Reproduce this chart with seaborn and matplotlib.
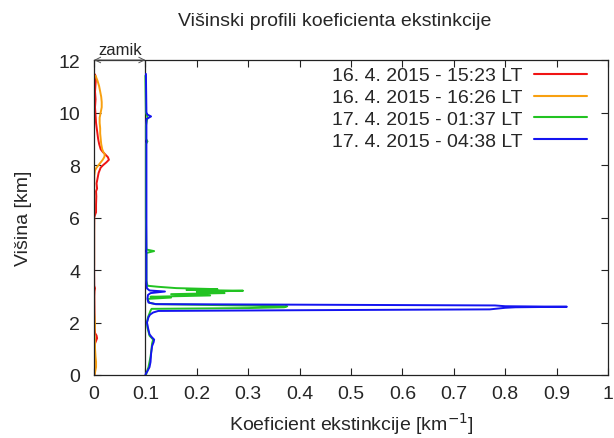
import matplotlib
matplotlib.use("Agg")
import matplotlib.pyplot as plt
import seaborn as sns
import pandas as pd

# ---------------- data (heights in km, extinction in km^-1) ----------------
labels = ["16. 4. 2015 - 15:23 LT", "16. 4. 2015 - 16:26 LT",
          "17. 4. 2015 - 01:37 LT", "17. 4. 2015 - 04:38 LT"]
colors = ["#f01414", "#f8a010", "#22c322", "#1414f0"]
offset = 0.1  # "zamik" applied to the night profiles

red_h = [0.0, 0.3, 0.6, 0.9, 1.2, 1.3, 1.4, 1.5, 1.6, 1.9, 2.2, 2.6, 3.0, 3.2, 3.3,
         3.4, 3.8, 4.5, 5.0, 5.5, 6.0, 6.1, 6.2, 6.5, 6.8, 7.0, 7.1, 7.3, 7.5, 7.7,
         7.9, 8.0, 8.1, 8.2, 8.3, 8.4, 8.5, 8.6, 8.8, 9.0, 9.3, 9.6, 9.9, 10.2, 10.5,
         10.8, 11.1, 11.3, 11.45]
red_v = [0.001, 0.001, 0.0008, 0.001, 0.002, 0.004, 0.006, 0.005, 0.002, 0.001,
         0.001, 0.0008, 0.0006, 0.001, 0.002, 0.0005, 0.0003, 0.0003, 0.0003, 0.0003,
         0.0005, 0.002, 0.004, 0.004, 0.0045, 0.004, 0.006, 0.005, 0.007, 0.009,
         0.013, 0.018, 0.024, 0.029, 0.027, 0.022, 0.017, 0.013, 0.010, 0.008,
         0.006, 0.004, 0.003, 0.002, 0.003, 0.002, 0.003, 0.004, 0.002]

orange_h = [0.0, 0.1, 0.3, 0.5, 0.7, 1.0, 1.3, 1.6, 1.9, 2.2, 2.4, 2.8, 3.3, 3.5, 3.7,
            3.9, 4.2, 5.0, 6.0, 7.0, 7.6, 7.8, 7.9, 8.0, 8.1, 8.2, 8.3, 8.4, 8.5, 8.6,
            8.8, 9.0, 9.2, 9.4, 9.6, 9.8, 10.0, 10.2, 10.4, 10.6, 10.8, 11.0, 11.2, 11.4]
orange_v = [0.001, 0.002, 0.004, 0.004, 0.003, 0.002, 0.002, 0.001, 0.002, 0.001,
            0.0003, 0.0002, 0.0002, -0.0005, -0.0006, -0.0004, 0.0002, 0.0002, 0.0002,
            0.0003, 0.0005, 0.002, 0.005, 0.009, 0.013, 0.017, 0.020, 0.021, 0.018,
            0.016, 0.014, 0.013, 0.012, 0.012, 0.011, 0.011, 0.013, 0.015, 0.015,
            0.014, 0.012, 0.010, 0.007, 0.003]

green_h = [0.0, 0.3, 0.7, 1.0, 1.2, 1.35, 1.5, 1.8, 2.0, 2.2, 2.35, 2.45, 2.52, 2.55,
           2.58, 2.62, 2.66, 2.70, 2.75, 2.85, 2.90, 2.95, 2.98, 3.03, 3.08, 3.12,
           3.17, 3.21, 3.24, 3.27, 3.31, 3.36, 3.40, 3.6, 4.65, 4.72, 4.78, 6.0, 8.8,
           8.9, 9.0, 9.5, 9.8, 9.9, 10.0, 11.4]
green_v = [0.001, 0.006, 0.010, 0.012, 0.013, 0.015, 0.008, 0.004, 0.003, 0.005,
           0.008, 0.010, 0.012, 0.200, 0.270, 0.276, 0.150, 0.020, 0.008, 0.005,
           0.005, 0.050, 0.010, 0.126, 0.050, 0.154, 0.100, 0.190, 0.080, 0.140,
           0.060, 0.025, 0.004, 0.002, 0.002, 0.017, 0.002, 0.001, 0.001, 0.004,
           0.001, 0.001, 0.004, 0.003, 0.001, 0.000]

blue_h = [0.0, 0.05, 0.15, 0.3, 0.5, 0.8, 1.1, 1.25, 1.35, 1.45, 1.55, 1.8, 2.0, 2.2,
          2.3, 2.38, 2.44, 2.47, 2.50, 2.56, 2.58, 2.60, 2.62, 2.65, 2.70, 2.76, 2.9,
          3.05, 3.12, 3.18, 3.22, 3.30, 3.5, 9.75, 9.85, 9.92, 10.0, 11.47]
blue_v = [0.000, 0.001, 0.004, 0.008, 0.010, 0.011, 0.013, 0.016, 0.017, 0.012,
          0.008, 0.005, 0.003, 0.006, 0.009, 0.015, 0.025, 0.320, 0.670, 0.700,
          0.720, 0.820, 0.700, 0.680, 0.020, 0.006, 0.004, 0.005, 0.010, 0.038,
          0.008, 0.003, 0.002, 0.002, 0.011, 0.004, 0.002, 0.001]

# ---------------- style ----------------
sns.set_style("ticks", {"xtick.direction": "in", "ytick.direction": "in"})
plt.rcParams["font.family"] = ["Liberation Sans", "DejaVu Sans"]
plt.rcParams["axes.edgecolor"] = "#222222"
plt.rcParams["axes.linewidth"] = 0.9

fig = plt.figure(figsize=(6.14, 4.39), dpi=100)
ax = fig.add_axes([94 / 614, 1 - 376 / 439, 514 / 614, 315 / 439])

series = [
    (red_h, red_v, 0.0),
    (orange_h, orange_v, 0.0),
    (green_h, green_v, offset),
    (blue_h, blue_v, offset),
]
for (h, v, off), lab, col in zip(series, labels, colors):
    df = pd.DataFrame({"ext": [x + off for x in v], "h": h})
    sns.lineplot(data=df, x="ext", y="h", sort=False, estimator=None,
                 color=col, lw=1.4, label=lab, ax=ax)

# offset reference line and "zamik" annotation
ax.plot([offset, offset], [0, 12], color="#222222", lw=0.9, zorder=1)
ax.annotate("", xy=(0.0, 12.0), xytext=(offset, 12.0),
            arrowprops=dict(arrowstyle="<->", color="#555555", lw=0.7,
                            shrinkA=0, shrinkB=0),
            annotation_clip=False)
ax.text(offset / 2, 12.12, "zamik", ha="center", va="bottom", fontsize=12)

ax.set_xlim(0, 1)
ax.set_ylim(0, 12)
ax.set_xticks([i / 10 for i in range(11)])
ax.set_xticklabels(["0", "0.1", "0.2", "0.3", "0.4", "0.5", "0.6", "0.7", "0.8", "0.9", "1"])
ax.set_yticks(range(0, 13, 2))
ax.tick_params(axis="both", which="major", direction="in", length=5, width=0.8,
               top=True, right=True, labelsize=14, color="#222222")
ax.tick_params(axis="x", pad=7)
ax.tick_params(axis="y", pad=10)

ax.set_xlabel("Koeficient ekstinkcije [km$^{-1}$]", fontsize=14, labelpad=6)
ax.set_ylabel("Višina [km]", fontsize=14, labelpad=19)
fig.text(335 / 614, 1 - 21 / 439, "Višinski profili koeficienta ekstinkcije",
         ha="center", va="center", fontsize=14)

leg = ax.legend(loc="upper right", bbox_to_anchor=(0.972, 1.0), frameon=False,
                markerfirst=False, fontsize=14, handlelength=2.7,
                handletextpad=0.6, labelspacing=0.22, borderpad=0.35,
                borderaxespad=0.0)
for line in leg.get_lines():
    line.set_linewidth(1.5)

fig.savefig("out.png", dpi=100)
